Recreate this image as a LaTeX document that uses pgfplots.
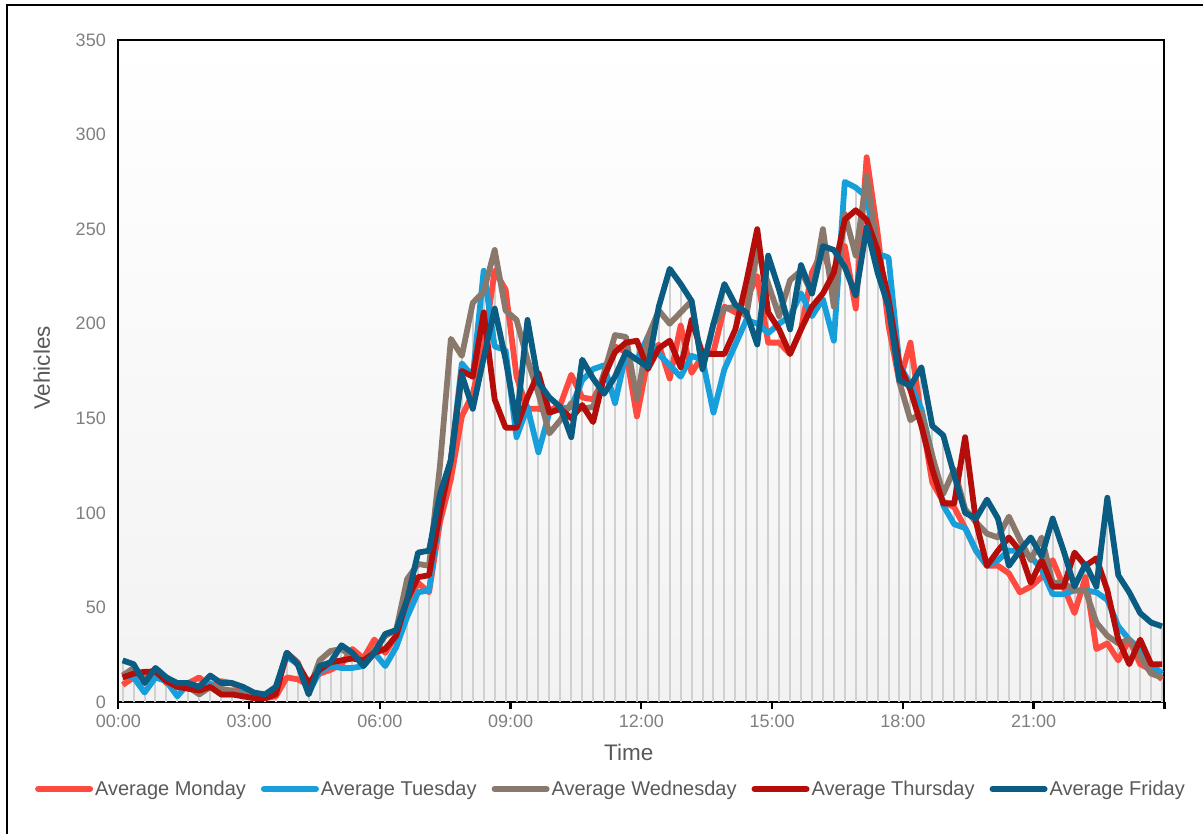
\documentclass[border=0pt]{standalone}
\usepackage{pgfplots}
\pgfplotsset{compat=1.18}
\usepackage{pgfplotstable}
\usepackage{fontspec}
\setmainfont{Liberation Sans}
\definecolor{cMon}{HTML}{FF4A40}
\definecolor{cTue}{HTML}{169FDB}
\definecolor{cWed}{HTML}{8A786C}
\definecolor{cThu}{HTML}{B50E0A}
\definecolor{cFri}{HTML}{0A5C82}
\definecolor{combgray}{HTML}{D0D0D0}
\definecolor{ticktext}{HTML}{7F7F7F}
\definecolor{labtext}{HTML}{595959}
\pgfplotstableread{
i Mon Tue Wed Thu Fri
0 9 15 14 13 22
1 13 13 18 15 20
2 15 5 13 16 10
3 17 13 17 16 18
4 10 11 11 11 13
5 8 3 8 8 10
6 10 10 8 7 10
7 13 8 4 6 8
8 8 10 8 8 14
9 11 4 7 4 10
10 10 4 6 4 10
11 6 5 4 3 8
12 4 3 3 2 5
13 2 2 3 2 4
14 3 8 6 4 8
15 13 24 26 26 26
16 12 20 21 20 20
17 9 5 6 10 4
18 15 16 22 17 19
19 17 19 27 21 21
20 20 18 28 22 30
21 28 18 24 23 26
22 23 19 22 22 19
23 33 26 27 26 26
24 26 19 35 28 36
25 35 29 38 35 38
26 52 45 65 54 54
27 63 58 73 66 79
28 58 59 72 67 80
29 95 100 125 100 110
30 118 128 192 128 128
31 151 179 183 175 173
32 163 172 211 172 155
33 188 228 217 206 182
34 228 188 239 160 208
35 218 186 207 145 181
36 172 140 202 145 148
37 155 156 181 161 202
38 155 132 163 174 169
39 154 153 142 153 161
40 157 155 149 155 156
41 173 156 158 150 140
42 161 170 155 157 181
43 160 176 156 148 171
44 171 178 174 172 163
45 188 158 194 185 172
46 185 184 193 190 185
47 151 181 160 191 181
48 181 193 193 176 177
49 189 184 207 187 209
50 171 178 200 191 229
51 199 172 206 177 221
52 174 183 212 202 212
53 183 181 176 184 176
54 185 153 200 184 200
55 209 176 208 184 221
56 206 189 209 197 210
57 213 202 204 222 206
58 225 200 239 250 189
59 190 195 221 206 236
60 190 200 204 197 218
61 184 204 223 184 197
62 197 216 228 197 231
63 227 204 216 209 216
64 239 213 250 216 241
65 221 191 209 227 239
66 241 275 258 255 230
67 208 272 236 260 215
68 288 267 278 255 251
69 248 237 239 239 227
70 199 235 213 213 209
71 169 178 169 178 170
72 190 168 149 165 167
73 151 155 153 146 177
74 116 130 130 123 146
75 106 104 110 105 141
76 103 94 123 105 120
77 92 92 102 140 100
78 80 80 95 95 97
79 72 72 89 72 107
80 72 75 87 80 97
81 68 80 98 87 72
82 58 80 86 80 80
83 61 77 75 63 87
84 66 70 87 75 77
85 75 57 63 61 97
86 61 57 63 61 80
87 47 59 59 79 61
88 66 59 59 72 73
89 28 58 42 76 61
90 31 54 35 59 108
91 22 40 31 33 67
92 33 33 33 20 58
93 20 28 24 33 47
94 17 20 15 20 42
95 12 15 13 20 40
}\data
\begin{document}
\begin{tikzpicture}
\begin{axis}[
  scale only axis,
  width=1046bp, height=662bp,
  xmin=-0.40, xmax=95.21,
  ymin=0, ymax=350,
  ytick={0,50,...,350},
  xtick={-0.40,11.55,23.50,35.45,47.40,59.36,71.31,83.26,95.21},
  xticklabels={00:00,03:00,06:00,09:00,12:00,15:00,18:00,21:00,},
  xtick pos=bottom,
  ytick pos=left,
  xtick align=outside,
  major tick length=7bp,
  xtick style={draw=black, line width=2.4bp},
  ytick style={draw=none},
  axis line style={black, line width=2.2bp},
  axis background/.style={shade, top color=white, bottom color=black!5},
  /pgf/number format/assume math mode=true,
  tick label style={font=\fontsize{18bp}{20bp}\selectfont, text=ticktext},
  yticklabel style={xshift=-9bp},
  xticklabel style={yshift=-2bp},
  xlabel={Time},
  ylabel={Vehicles},
  label style={font=\fontsize{22.5bp}{26bp}\selectfont, text=labtext},
  xlabel style={at={(axis description cs:0.488,-0.0755)}, anchor=center},
  ylabel style={at={(axis description cs:-0.073,0.5045)}, anchor=center},
  legend columns=5,
  legend style={at={(axis description cs:0.471,-0.1314)}, anchor=center,
    draw=none, fill=none, font=\fontsize{20bp}{24bp}\selectfont, text=labtext,
    /tikz/every even column/.append style={column sep=13bp},
    inner sep=0pt},
  legend image code/.code={\draw[#1, line width=6bp, line cap=round] (0bp,0bp) -- (52bp,0bp);},
  clip=false,
  axis on top=false,
]
\addplot[ycomb, draw=combgray, line width=2bp, forget plot] table[x=i, y=Mon] {\data};
\addplot[ycomb, draw=combgray, line width=2bp, forget plot] table[x=i, y=Tue] {\data};
\addplot[ycomb, draw=combgray, line width=2bp, forget plot] table[x=i, y=Wed] {\data};
\addplot[ycomb, draw=combgray, line width=2bp, forget plot] table[x=i, y=Thu] {\data};
\addplot[ycomb, draw=combgray, line width=2bp, forget plot] table[x=i, y=Fri] {\data};
\addplot[cMon, line width=5.8bp, line join=round, no marks] table[x=i, y=Mon] {\data};
\addlegendentry{Average Monday}
\addplot[cTue, line width=5.8bp, line join=round, no marks] table[x=i, y=Tue] {\data};
\addlegendentry{Average Tuesday}
\addplot[cWed, line width=5.8bp, line join=round, no marks] table[x=i, y=Wed] {\data};
\addlegendentry{Average Wednesday}
\addplot[cThu, line width=5.8bp, line join=round, no marks] table[x=i, y=Thu] {\data};
\addlegendentry{Average Thursday}
\addplot[cFri, line width=5.8bp, line join=round, no marks] table[x=i, y=Fri] {\data};
\addlegendentry{Average Friday}
\end{axis}
\path[use as bounding box] (-118.3bp,-132bp) rectangle (1084.7bp,702bp);
\draw[black, line width=2bp] (-111.3bp,-133bp) -- (-111.3bp,697bp) -- (1085bp,697bp);
\end{tikzpicture}
\end{document}
